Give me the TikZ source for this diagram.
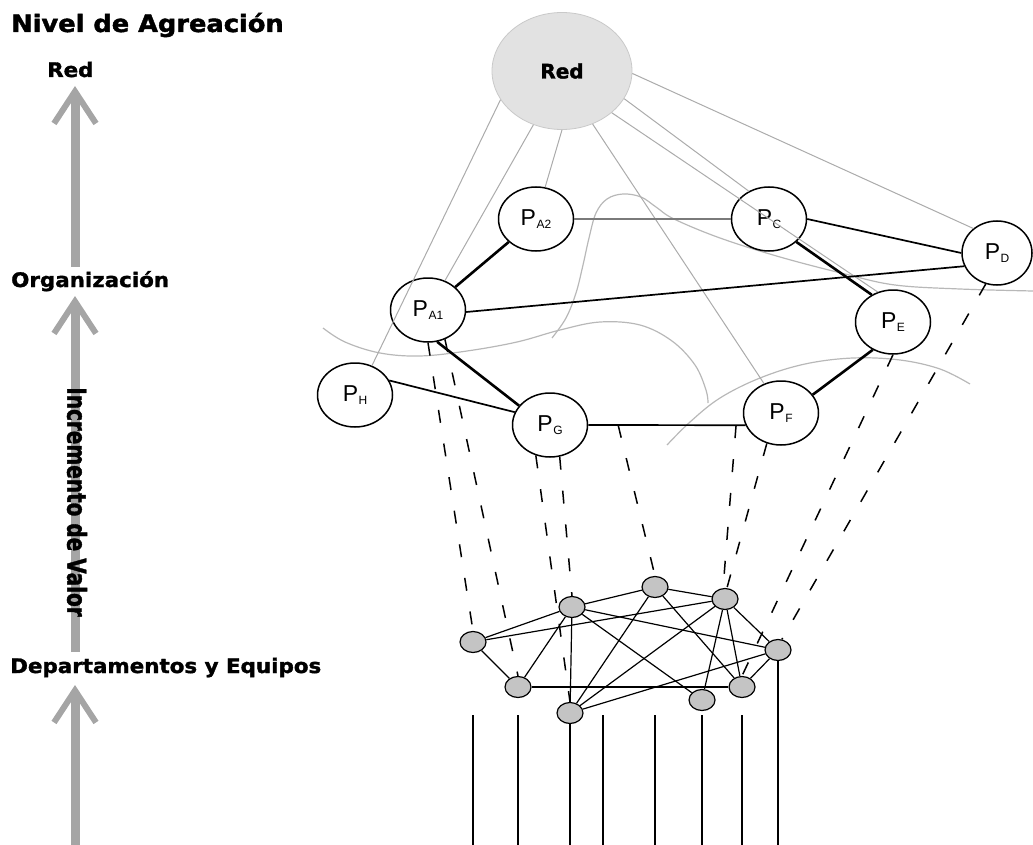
\documentclass[tikz,border=0pt]{standalone}
\usepackage{fontspec}
\setmainfont{Liberation Sans}
\newfontfamily\headfont{DejaVu Sans}[BoldFeatures={FakeBold=1.6}]
\usetikzlibrary{shapes.geometric,arrows.meta}

\definecolor{arrowgray}{HTML}{A5A5A5}
\definecolor{linkgray}{HTML}{ABABAB}
\definecolor{curvegray}{HTML}{B8B8B8}
\definecolor{netfill}{HTML}{E2E2E2}
\definecolor{netline}{HTML}{C9C9C9}
\definecolor{teamfill}{HTML}{C4C4C4}
\definecolor{pairgray}{HTML}{7A7A7A}

% P with a small lowered index
\newcommand\pname[1]{P\kern0.5pt\raisebox{-3.5pt}{\fontsize{12}{12}\selectfont #1}}

\begin{document}
\begin{tikzpicture}[x=1pt,y=-1pt,
  headtext/.style={font=\headfont\bfseries\fontsize{24}{28}\selectfont, inner sep=0, anchor=base west},
  leveltext/.style={font=\headfont\bfseries\fontsize{20}{24}\selectfont, inner sep=0, anchor=base west},
  valarrow/.style={draw=arrowgray, line width=9pt, -{Straight Barb[sharp, length=32pt, width=42pt, line width=6pt]}},
  netnode/.style={ellipse, draw=netline, line width=0.8pt, fill=netfill, minimum width=140pt, minimum height=117pt, inner sep=0, font=\headfont\bfseries\fontsize{20}{24}\selectfont},
  pnode/.style={ellipse, draw, line width=1.5pt, fill=white, minimum width=75pt, minimum height=64pt, inner sep=0, font=\fontsize{23}{23}\selectfont},
  team/.style={ellipse, draw, line width=1.2pt, fill=teamfill, minimum width=26pt, minimum height=21pt, inner sep=0},
  tie/.style={line width=2.6pt},
  link/.style={line width=1.7pt},
  netlink/.style={draw=linkgray, line width=1pt},
  boundary/.style={draw=curvegray, line width=1.2pt},
  support/.style={line width=1.5pt, dash pattern=on 13pt off 21pt},
  teamlink/.style={line width=1.2pt},
  stem/.style={line width=1.3pt}
]
\useasboundingbox (0,0) rectangle (1033,845);

% ---- aggregation scale on the left ----
\node[headtext] (title) at (11,32) {\scalebox{1.07}[1]{Nivel de Agreación}};
\node[leveltext] (lred) at (47,77) {\scalebox{1.07}[1]{Red}};
\node[leveltext] (lorg) at (11,287) {\scalebox{1.07}[1]{Organización}};
\node[leveltext] (ldept) at (10,673) {\scalebox{1.07}[1]{Departamentos y Equipos}};

\coordinate (a1s) at (75,267); \coordinate (a1e) at (75,86);
\coordinate (a2s) at (75,652); \coordinate (a2e) at (75,296);
\coordinate (a3s) at (75,845); \coordinate (a3e) at (75,685);
\draw[valarrow] (a1s) -- (a1e);
\draw[valarrow] (a2s) -- (a2e);
\draw[valarrow] (a3s) -- (a3e);

\node[font=\headfont\bfseries\fontsize{26}{28}\selectfont, rotate=-90, inner sep=0] (incr) at (77,502)
  {\scalebox{0.77}[1]{Incremento de Valor}};

% ---- organisational boundaries ----
\draw[boundary] plot[smooth, tension=0.6] coordinates {(323,328) (345,342) (380,353) (420,356) (467,351) (517,342) (560,330) (600,322) (640,325) (672,341) (695,365) (706,390) (708,403)};
\draw[boundary] plot[smooth, tension=0.6] coordinates {(552,338) (566,318) (576,293) (583,265) (589,238) (596,213) (607,199) (623,194) (641,197) (656,207) (674,219) (720,238) (780,257) (845,274) (895,285) (960,289) (1033,291)};
\draw[boundary] plot[smooth, tension=0.6] coordinates {(667,445) (690,422) (720,398) (760,378) (805,364) (853,358) (900,360) (940,369) (970,384)};

% ---- network and partners ----
\node[netnode] (red) at (562,71) {Red};
\node[pnode] (pa2) at (536,219) {\pname{A2}};
\node[pnode] (pa1) at (428,310) {\pname{A1}};
\node[pnode] (ph) at (355,395) {\pname{H}};
\node[pnode] (pg) at (550,425) {\pname{G}};
\node[pnode] (pc) at (769,219) {\pname{C}};
\node[pnode, minimum width=70pt] (pd) at (997,253) {\pname{D}};
\node[pnode] (pe) at (893,322) {\pname{E}};
\node[pnode] (pf) at (781,413) {\pname{F}};

\draw[netlink] (red.205) -- (ph.60);
\draw[netlink] (red.242) -- (pa1.60);
\draw[netlink] (red.270) -- (pa2.74);
\draw[netlink] (red.300) -- (pf.120);
\draw[netlink] (red.336) -- (pc.126);
\draw[netlink] (red.320) -- (pe.117);
\draw[netlink] (red.358) -- (pd.134);

\draw[tie] (pa2) -- (pa1);
\draw[tie] (pa1.286) -- (pg.148);
\draw[link] (ph.23) -- (pg.160);
\draw[link] (pg.east) -- (pf.199) coordinate[pos=0.19] (gf1) coordinate[pos=0.94] (gf2);
\draw[tie] (pf.30) -- (pe.234);
\draw[tie] (pc.320) -- (pe.128);
\draw[link] (pc.east) -- (pd.west);
\draw[link] (pa1.357) -- (pd.202);
\draw[link, draw=pairgray] (pa2.east) -- (pc.west);

% ---- departments and teams ----
\node[team] (n1) at (473,642) {};
\node[team] (n2) at (572,607) {};
\node[team] (n3) at (655,587) {};
\node[team] (n4) at (725,599) {};
\node[team] (n5) at (778,650) {};
\node[team] (n6) at (518,687) {};
\node[team] (n7) at (570,713) {};
\node[team] (n8) at (702,700) {};
\node[team] (n9) at (742,687) {};

\foreach \a/\b in {n1/n2, n1/n4, n1/n6, n2/n3, n3/n4, n2/n6, n2/n7, n2/n5, n2/n8,
                   n3/n7, n3/n9, n4/n7, n4/n8, n4/n9, n4/n5, n5/n7, n5/n9, n6/n9}
  \draw[teamlink] (\a) -- (\b);

% ---- support of partners by teams ----
\draw[support] (pa1.south) -- (n1.north);
\draw[support] (pa1.300) -- (n6.north);
\draw[support] (pg.245) -- (n7.north);
\draw[support] (pg.287) -- (n2.north);
\draw[support] (gf1) -- (n3.north);
\draw[support] (gf2) -- (n4.100);
\draw[support] (pf.245) -- (n4.80);
\draw[support] (pe.south) -- (n9.north);
\draw[support] (pd.250) -- (n5.70);

% ---- members below the teams ----
\coordinate (vtop) at (0,715);
\coordinate (vbot) at (0,845);
\coordinate (extra) at (603,715);
\foreach \n in {n1, n6, n3, n8, n9}
  \draw[stem] (\n |- vtop) -- (\n |- vbot);
\draw[stem] (extra) -- (extra |- vbot);
\draw[stem] (n7.south) -- (n7 |- vbot);
\draw[stem] (n5.south) -- (n5 |- vbot);
\end{tikzpicture}
\end{document}
